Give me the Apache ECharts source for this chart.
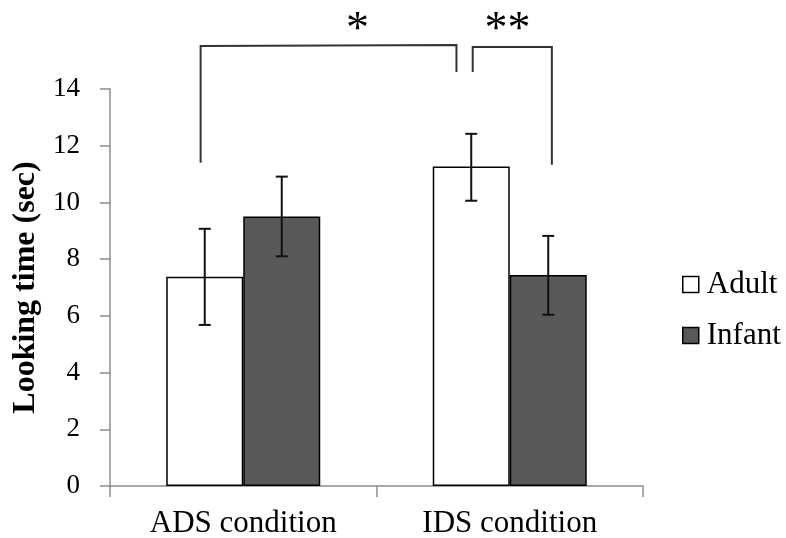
<!DOCTYPE html>
<html>
<head>
<meta charset="utf-8">
<script src="https://cdn.jsdelivr.net/npm/echarts@6/dist/echarts.min.js"></script>
<style>
html,body{margin:0;padding:0;background:#fff;}
#chart{width:786px;height:538px;}
</style>
</head>
<body>
<div id="chart"></div>
<script>
// ---- data ----
const categories = ['ADS condition', 'IDS condition'];
const seriesNames = ['Adult', 'Infant'];
const adultMeans = [7.38, 11.27];
const infantMeans = [9.50, 7.44];
const adultErrLow = [5.68, 10.06];
const adultErrHigh = [9.07, 12.42];
const infantErrLow = [8.10, 6.04];
const infantErrHigh = [10.91, 8.82];
const yMin = 0, yMax = 14, yInterval = 2;
// significance brackets: points as [category position, value]
const bracket1 = [[-0.16, 11.4], [-0.16, 15.52], [0.80, 15.55], [0.80, 14.6]];
const bracket2 = [[0.861, 14.6], [0.861, 15.48], [1.158, 15.48], [1.158, 11.33]];
const sigLabels = ['*', '**'];
const sigPositions = [[0.429, 16.05], [0.992, 16.05]];

// ---- style ----
const FONT = '"Liberation Serif", "Times New Roman", serif';
const BAR_W = 77;
const CAP_HALF = 6;

const chart = echarts.init(document.getElementById('chart'), null, {renderer: 'canvas'});

function catX(api, pos, v) {
  const p0 = api.coord([0, v]);
  const p1 = api.coord([1, v]);
  return [p0[0] + (p1[0] - p0[0]) * pos, p0[1]];
}

function errorSeries(lows, highs, side) {
  return {
    type: 'custom',
    name: 'err' + side,
    silent: true,
    z: 5,
    data: categories.map((c, i) => [i, lows[i], highs[i]]),
    renderItem: function (params, api) {
      const i = api.value(0);
      const lo = api.coord([i, api.value(1)]);
      const hi = api.coord([i, api.value(2)]);
      const x = lo[0] + side * BAR_W / 2;
      const st = {stroke: '#111', lineWidth: 2};
      return {
        type: 'group',
        children: [
          {type: 'line', shape: {x1: x, y1: lo[1], x2: x, y2: hi[1]}, style: st},
          {type: 'line', shape: {x1: x - CAP_HALF, y1: lo[1], x2: x + CAP_HALF, y2: lo[1]}, style: st},
          {type: 'line', shape: {x1: x - CAP_HALF, y1: hi[1], x2: x + CAP_HALF, y2: hi[1]}, style: st}
        ]
      };
    }
  };
}

const annotationSeries = {
  type: 'custom',
  name: 'sig',
  silent: true,
  clip: false,
  z: 6,
  data: [[0]],
  renderItem: function (params, api) {
    const children = [];
    [bracket1, bracket2].forEach(br => {
      const pts = br.map(p => catX(api, p[0], p[1]));
      children.push({type: 'polyline', shape: {points: pts}, style: {stroke: '#333', lineWidth: 2, fill: null}});
    });
    sigPositions.forEach((p, k) => {
      const pt = catX(api, p[0], p[1]);
      children.push({type: 'text', style: {text: sigLabels[k], x: pt[0], y: pt[1], align: 'center', verticalAlign: 'middle', fontSize: 46, fontFamily: FONT, fill: '#000'}});
    });
    return {type: 'group', children: children};
  }
};

const option = {
  backgroundColor: '#ffffff',
  animation: false,
  grid: {left: 110, right: 143, top: 89, bottom: 52, containLabel: false, outerBoundsMode: 'none'},
  legend: {
    data: seriesNames,
    orient: 'vertical',
    left: 677,
    top: 264,
    itemGap: 20,
    itemWidth: 16,
    itemHeight: 16,
    icon: 'rect',
    textStyle: {fontSize: 31, fontFamily: FONT, color: '#000', padding: [0, 0, 0, 3]},
    itemStyle: {borderColor: '#000', borderWidth: 1.5}
  },
  xAxis: {
    type: 'category',
    data: categories,
    axisLine: {lineStyle: {color: '#8c8c8c', width: 1.5}},
    axisTick: {show: true, length: 11, lineStyle: {color: '#8c8c8c', width: 1.5}},
    axisLabel: {fontSize: 31, fontFamily: FONT, color: '#000', margin: 22}
  },
  yAxis: {
    type: 'value',
    min: yMin,
    max: yMax,
    interval: yInterval,
    name: 'Looking time (sec)',
    nameLocation: 'middle',
    nameRotate: 90,
    nameGap: 63,
    nameTextStyle: {fontSize: 32, fontWeight: 'bold', fontFamily: FONT, color: '#000'},
    axisLine: {show: true, lineStyle: {color: '#8c8c8c', width: 1.5}},
    axisTick: {show: true, length: 10, lineStyle: {color: '#8c8c8c', width: 1.5}},
    splitLine: {show: false},
    axisLabel: {fontSize: 27, fontFamily: FONT, color: '#000', margin: 30}
  },
  series: [
    {
      name: 'Adult',
      type: 'bar',
      data: adultMeans,
      barWidth: BAR_W,
      barGap: '0%',
      itemStyle: {color: '#ffffff', borderColor: '#000', borderWidth: 1.5}
    },
    {
      name: 'Infant',
      type: 'bar',
      data: infantMeans,
      barWidth: BAR_W,
      barGap: '0%',
      itemStyle: {color: '#595959', borderColor: '#000', borderWidth: 1.5}
    },
    errorSeries(adultErrLow, adultErrHigh, -1),
    errorSeries(infantErrLow, infantErrHigh, 1),
    annotationSeries
  ]
};
chart.setOption(option);
</script>
</body>
</html>
